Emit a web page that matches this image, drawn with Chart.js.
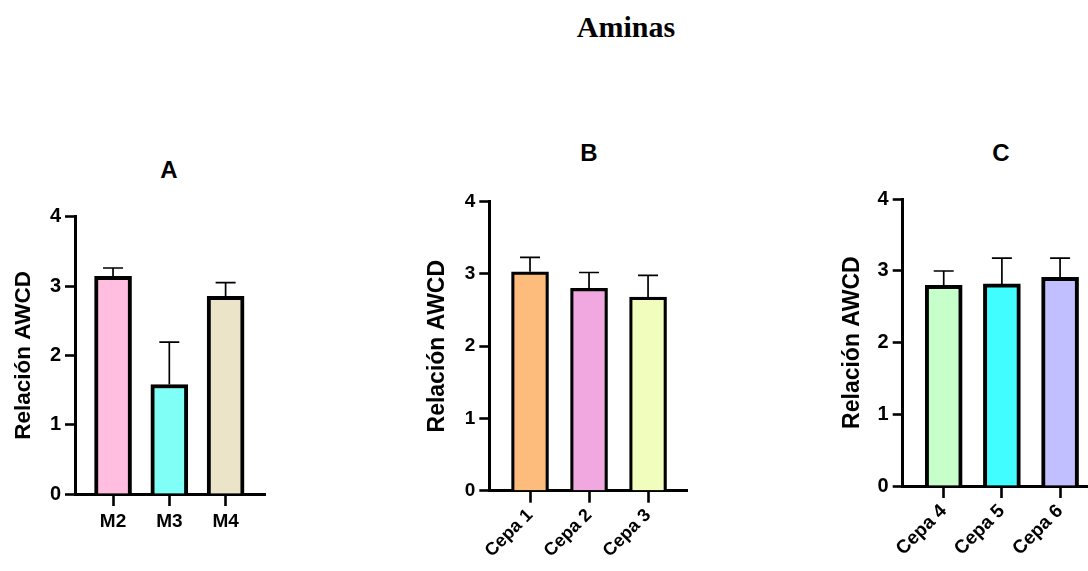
<!DOCTYPE html>
<html lang="es">
<head>
    <meta charset="UTF-8">
    <title>Aminas</title>
    <style>
        body {
            margin: 0;
            background: #fff;
            width: 1088px;
            height: 571px;
            overflow: hidden;
            position: relative;
            font-family: "Liberation Sans", Arial, sans-serif;
        }

        .main-title {
            position: absolute;
            left: 626px;
            top: 27px;
            transform: translate(-50%, -50%);
            font-family: "Liberation Serif", "Times New Roman", serif;
            font-weight: bold;
            font-size: 30px;
            line-height: 1;
            color: #000;
        }

        .panel-title {
            position: absolute;
            transform: translate(-50%, -50%);
            font-weight: bold;
            font-size: 24px;
            line-height: 1;
            color: #000;
        }

        .panel {
            position: absolute;
        }
    </style>
    <script src="https://cdn.jsdelivr.net/npm/chart.js"></script>
</head>
<body>
    <div class="main-title">Aminas</div>

    <div class="panel-title" style="left:169px; top:170px;">A</div>
    <div class="panel-title" style="left:589px; top:153px;">B</div>
    <div class="panel-title" style="left:1001px; top:153px;">C</div>

    <div class="panel" style="left:0px; top:196px;"><canvas id="chartA" width="280" height="350"></canvas></div>
    <div class="panel" style="left:380px; top:180px;"><canvas id="chartB" width="320" height="391"></canvas></div>
    <div class="panel" style="left:800px; top:180px;"><canvas id="chartC" width="288" height="391"></canvas></div>

    <script>
        // data (mean + SD)
        const labelsA = ['M2', 'M3', 'M4'];
        const valuesA = [3.14, 1.58, 2.85];
        const errorsA = [0.12, 0.61, 0.20];
        const colorsA = ['#ffbde0', '#80fff6', '#ebe4c9'];

        const labelsB = ['Cepa 1', 'Cepa 2', 'Cepa 3'];
        const valuesB = [3.03, 2.80, 2.68];
        const errorsB = [0.20, 0.22, 0.30];
        const colorsB = ['#fdbb7c', '#f1a8e1', '#f1fdbd'];

        const labelsC = ['Cepa 4', 'Cepa 5', 'Cepa 6'];
        const valuesC = [2.80, 2.82, 2.91];
        const errorsC = [0.20, 0.36, 0.27];
        const colorsC = ['#c6ffca', '#41fdff', '#c1bfff'];

        const yTicks = [0, 1, 2, 3, 4];
        const yTitle = 'Relación AWCD';

        const FONT = '"Liberation Sans", Arial, sans-serif';

        // error bars: vertical line from bar top up to mean + SD, with a cap
        const errorBars = {
            id: 'errorBars',
            afterDatasetsDraw(chart, args, opts) {
                const ctx = chart.ctx;
                const meta = chart.getDatasetMeta(0);
                const yScale = chart.scales.y;
                const points = chart.data.datasets[0].data;
                ctx.save();
                ctx.strokeStyle = '#000';
                ctx.lineWidth = opts.lineWidth;
                meta.data.forEach((bar, i) => {
                    const top = yScale.getPixelForValue(points[i].y + opts.errors[i]);
                    ctx.beginPath();
                    ctx.moveTo(bar.x, bar.y);
                    ctx.lineTo(bar.x, top);
                    ctx.moveTo(bar.x - opts.cap / 2, top);
                    ctx.lineTo(bar.x + opts.cap / 2, top);
                    ctx.stroke();
                });
                ctx.restore();
            }
        };

        function makePanel(id, labels, values, errors, colors, g) {
            const ctx = document.getElementById(id).getContext('2d');
            return new Chart(ctx, {
                type: 'bar',
                data: {
                    datasets: [{
                        data: values.map((v, i) => ({ x: i + 1, y: v })),
                        backgroundColor: colors,
                        borderColor: '#000',
                        borderWidth: g.border,
                        borderSkipped: 'start',
                        barThickness: g.barWidth
                    }]
                },
                plugins: [errorBars],
                options: {
                    responsive: false,
                    animation: false,
                    events: [],
                    layout: {
                        padding: { top: g.padTop, right: g.padRight, bottom: 0, left: 0 }
                    },
                    plugins: {
                        legend: { display: false },
                        tooltip: { enabled: false },
                        errorBars: { errors: errors, cap: 20, lineWidth: 1.7 }
                    },
                    scales: {
                        x: {
                            type: 'linear',
                            offset: false,
                            min: g.xMin,
                            max: g.xMax,
                            afterBuildTicks: (scale) => {
                                scale.ticks = labels.map((l, i) => ({ value: i + 1 }));
                            },
                            afterFit: (scale) => { scale.height = g.xHeight; },
                            grid: {
                                offset: false,
                                drawOnChartArea: false,
                                drawTicks: true,
                                tickLength: 12,
                                tickWidth: 2.6,
                                tickColor: '#000'
                            },
                            border: { display: true, color: '#000', width: 3 },
                            ticks: {
                                autoSkip: false,
                                minRotation: g.rotation,
                                maxRotation: g.rotation,
                                padding: g.xPad,
                                color: '#000',
                                font: { family: FONT, size: g.tickSize, weight: 'bold' },
                                callback: (v) => labels[v - 1]
                            }
                        },
                        y: {
                            min: 0,
                            max: 4,
                            afterBuildTicks: (scale) => {
                                scale.ticks = yTicks.map(v => ({ value: v }));
                            },
                            afterFit: (scale) => { scale.width = g.yWidth; },
                            grid: {
                                drawOnChartArea: false,
                                drawTicks: true,
                                tickLength: 10,
                                tickWidth: 2.6,
                                tickColor: '#000'
                            },
                            border: { display: true, color: '#000', width: 3 },
                            ticks: {
                                padding: 4,
                                color: '#000',
                                font: { family: FONT, size: g.tickSize + 1, weight: 'bold' }
                            },
                            title: {
                                display: true,
                                text: yTitle,
                                color: '#000',
                                font: { family: FONT, size: g.titleSize, weight: 'bold', lineHeight: 1.2 },
                                padding: { top: g.titleOffset - g.titleSize * 0.6, bottom: 0 }
                            }
                        }
                    }
                }
            });
        }

        makePanel('chartA', labelsA, valuesA, errorsA, colorsA, {
            border: 4, barWidth: 37, padTop: 20.7, padRight: 15,
            xMin: 0.324, xMax: 3.70, xHeight: 52, rotation: 0, xPad: 4,
            yWidth: 75, tickSize: 19, titleSize: 22.5, titleOffset: 24
        });

        makePanel('chartB', labelsB, valuesB, errorsB, colorsB, {
            border: 3.2, barWidth: 37, padTop: 21.7, padRight: 13,
            xMin: 0.31, xMax: 3.66, xHeight: 80.3, rotation: 45, xPad: 2,
            yWidth: 109.3, tickSize: 18, titleSize: 23, titleOffset: 57.5
        });

        makePanel('chartC', labelsC, valuesC, errorsC, colorsC, {
            border: 4, barWidth: 37, padTop: 19.3, padRight: 0,
            xMin: 0.295, xMax: 3.48, xHeight: 85, rotation: 45, xPad: 2,
            yWidth: 102.7, tickSize: 19, titleSize: 23, titleOffset: 52.2
        });
    </script>
</body>
</html>
